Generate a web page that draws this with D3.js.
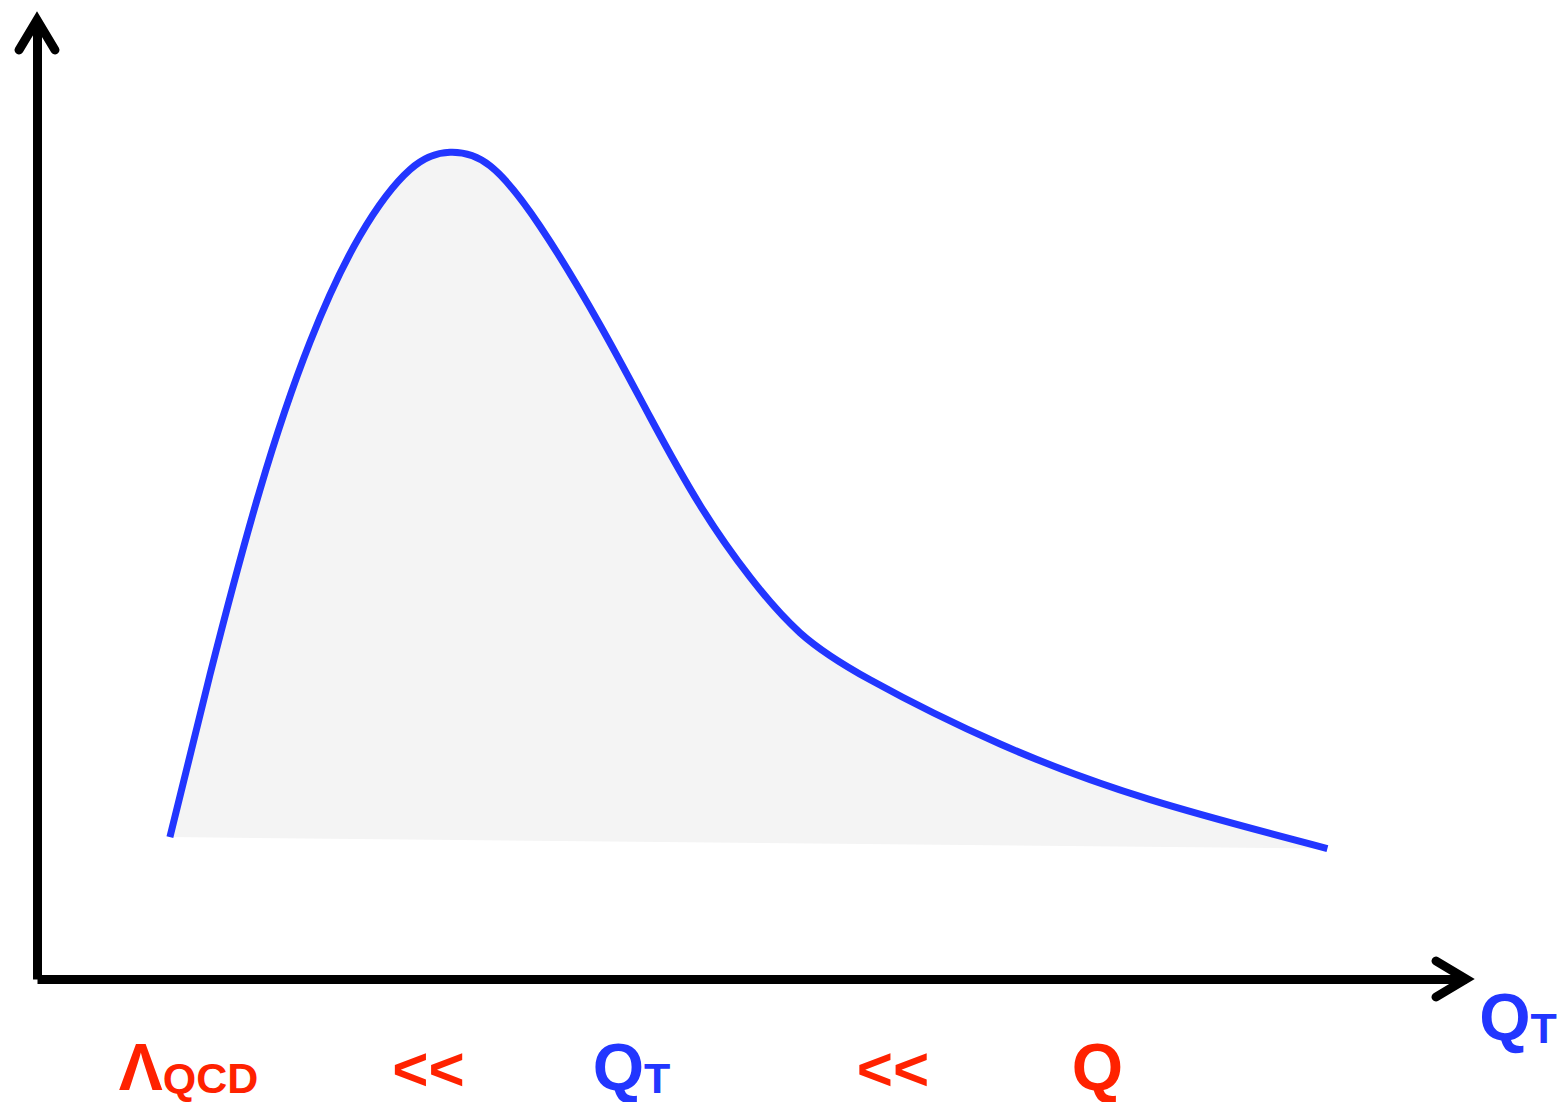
<!DOCTYPE html>
<html>
<head>
<meta charset="utf-8">
<script src="https://cdn.jsdelivr.net/npm/d3@7"></script>
<style>
  body { margin: 0; background: #fff; }
  svg { display: block; }
</style>
</head>
<body>
<svg id="chart"></svg>
<script>
// curve (arbitrary units, qT on x, rate on y)
const qt = [0.93, 1.21, 1.56, 1.91, 2.26, 2.61, 2.89, 3.17, 3.52, 3.94, 4.29,
            4.64, 4.99, 5.34, 5.83, 6.74, 7.79, 9.03];
const rate = [1.48, 3.17, 5.10, 6.64, 7.75, 8.44, 8.62, 8.48, 7.85, 6.82, 5.86,
              4.94, 4.19, 3.61, 3.12, 2.45, 1.87, 1.36];

// scale labels under the axis
const labelMain = ["Λ", "<<", "Q", "<<", "Q"];
const labelSub = ["QCD", "", "T", "", ""];
const labelColor = ["red", "red", "blue", "red", "red"];
const labelPos = [1.06, 2.74, 4.16, 5.99, 7.42];

const width = 1557, height = 1102;
const red = "#ff2200", blue = "#2236ff";
const font = "'Liberation Sans', Arial, sans-serif";

const svg = d3.select("#chart").attr("width", width).attr("height", height);

const x = d3.scaleLinear().domain([0, 10]).range([37, 1466]);
const y = d3.scaleLinear().domain([0, 10]).range([979, 20]);

const pts = qt.map((d, i) => [d, rate[i]]);

let line = d3.line()
    .x(d => x(d[0]))
    .y(d => y(d[1]))
    .curve(d3.curveNatural);

// shaded region, closed straight back to the start
svg.append("path")
    .attr("d", line(pts) + "Z")
    .attr("fill", "#f4f4f4")
    .attr("stroke", "none");

svg.append("path")
    .attr("d", line(pts))
    .attr("fill", "none")
    .attr("stroke", blue)
    .attr("stroke-width", 7);

// axes, no ticks
let xAxis = svg.append("g")
    .attr("transform", `translate(0, ${y(0)})`)
    .call(d3.axisBottom(x).tickValues([]).tickSizeOuter(0));
let yAxis = svg.append("g")
    .attr("transform", `translate(${x(0)}, 0)`)
    .call(d3.axisLeft(y).tickValues([]).tickSizeOuter(0));
[xAxis, yAxis].forEach(a => a.select(".domain")
    .attr("stroke", "#000")
    .attr("stroke-width", 9));

// arrow heads
let head = d3.line();
let x1 = x(10), y0 = y(0), x0 = x(0), y1 = y(10);
svg.append("path")
    .attr("d", head([[x1 - 30, y0 - 18], [x1, y0], [x1 - 30, y0 + 18]]))
    .attr("fill", "none").attr("stroke", "#000").attr("stroke-width", 9)
    .attr("stroke-linecap", "round").attr("stroke-linejoin", "miter");
svg.append("path")
    .attr("d", head([[x0 - 18, y1 + 30], [x0, y1], [x0 + 18, y1 + 30]]))
    .attr("fill", "none").attr("stroke", "#000").attr("stroke-width", 9)
    .attr("stroke-linecap", "round").attr("stroke-linejoin", "miter");

// axis title
let title = svg.append("text")
    .attr("x", 1518).attr("y", 1040)
    .attr("text-anchor", "middle")
    .attr("font-family", font).attr("font-weight", "bold")
    .attr("fill", blue);
title.append("tspan").attr("font-size", 66).text("Q");
title.append("tspan").attr("font-size", 43).attr("dy", 3).text("T");

// labels under the axis
labelMain.forEach((m, i) => {
    let t = svg.append("text")
        .attr("x", x(labelPos[i]))
        .attr("y", 1090)
        .attr("text-anchor", "middle")
        .attr("font-family", font).attr("font-weight", "bold")
        .attr("fill", labelColor[i] == "red" ? red : blue);
    t.append("tspan").attr("font-size", m == "<<" ? 62 : 66).text(m);
    if (labelSub[i] != "") {
        t.append("tspan").attr("font-size", 43).attr("dy", 3).text(labelSub[i]);
    }
});
</script>
</body>
</html>
